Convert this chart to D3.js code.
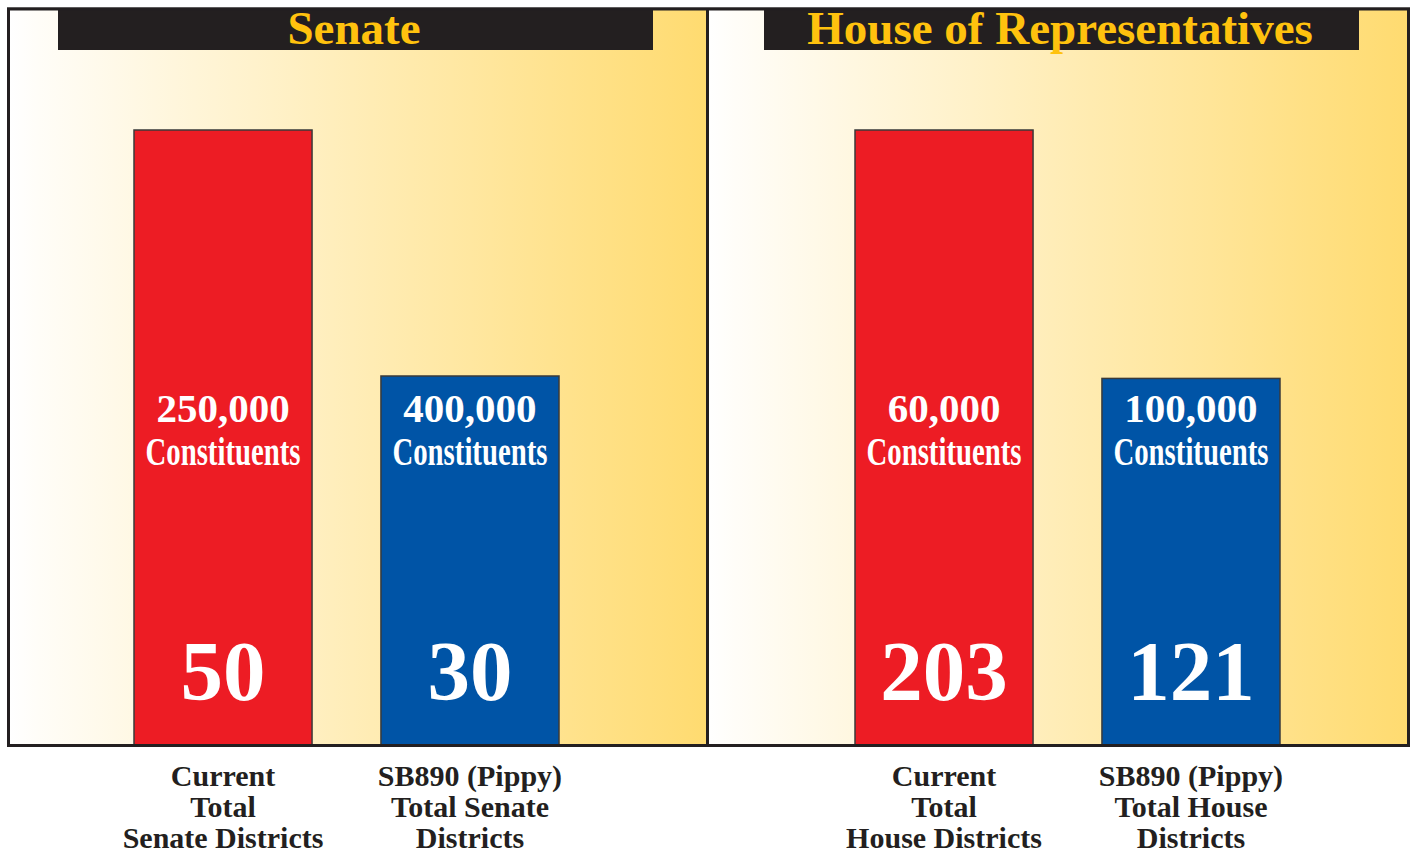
<!DOCTYPE html>
<html>
<head>
<meta charset="utf-8">
<script src="https://cdn.jsdelivr.net/npm/d3@7"></script>
<style>
    body { margin: 0; background: #ffffff; }
    svg { display: block; }
</style>
</head>
<body>
<div id="chart"></div>
<script>
// chart values
const PANEL_TITLES = ["Senate", "House of Representatives"];
const SENATE_CATEGORIES = ["Current", "SB890"];
const HOUSE_CATEGORIES = ["Current", "SB890"];
const SENATE_DISTRICTS = [50, 30];
const HOUSE_DISTRICTS = [203, 121];
const SENATE_CONSTITUENTS = ["250,000", "400,000"];
const HOUSE_CONSTITUENTS = ["60,000", "100,000"];
const SENATE_LABELS = [["Current", "Total", "Senate Districts"], ["SB890 (Pippy)", "Total Senate", "Districts"]];
const HOUSE_LABELS = [["Current", "Total", "House Districts"], ["SB890 (Pippy)", "Total House", "Districts"]];

const BAR_COLORS = ["#ED1C24", "#0054A6"];
const DARK = "#231F20";
const GOLD = "#FFC20E";

const WIDTH = 1416, HEIGHT = 849;
const BASE_Y = 745, TOP_Y = 130;

// where each panel sits
const LAYOUT = [
    { x0: 8.5, x1: 707.5, barStart: 134, barEnd: 559, titleX: 58 },
    { x0: 707.5, x1: 1408.5, barStart: 855, barEnd: 1280, titleX: 764 }
];

const PANELS = [
    { title: PANEL_TITLES[0], cats: SENATE_CATEGORIES, values: SENATE_DISTRICTS, people: SENATE_CONSTITUENTS, labels: SENATE_LABELS },
    { title: PANEL_TITLES[1], cats: HOUSE_CATEGORIES, values: HOUSE_DISTRICTS, people: HOUSE_CONSTITUENTS, labels: HOUSE_LABELS }
];

const SVG = d3.select("#chart").append("svg")
    .attr("width", WIDTH)
    .attr("height", HEIGHT);

const grad = SVG.append("defs").append("linearGradient")
    .attr("id", "bg")
    .attr("x1", "0%").attr("x2", "100%")
    .attr("y1", "0%").attr("y2", "0%");
grad.append("stop").attr("offset", "0%").attr("stop-color", "#FFFFFF");
grad.append("stop").attr("offset", "4%").attr("stop-color", "#FFFDF8");
grad.append("stop").attr("offset", "100%").attr("stop-color", "#FFDB70");

PANELS.forEach((panel, i) => {
    const L = LAYOUT[i];
    const g = SVG.append("g");

    g.append("rect")
        .attr("x", L.x0)
        .attr("y", 8.5)
        .attr("width", L.x1 - L.x0)
        .attr("height", BASE_Y + 0.5 - 8.5)
        .attr("fill", "url(#bg)");

    // title bar
    g.append("rect")
        .attr("x", L.titleX)
        .attr("y", 10)
        .attr("width", 595)
        .attr("height", 40)
        .attr("fill", DARK);
    g.append("text")
        .attr("x", L.titleX + 296)
        .attr("y", 44)
        .attr("text-anchor", "middle")
        .attr("font-family", "'Liberation Serif', serif")
        .attr("font-weight", "bold")
        .attr("font-size", 47)
        .attr("fill", GOLD)
        .text(panel.title);

    const x = d3.scaleBand()
        .domain(panel.cats)
        .range([L.barStart, L.barEnd])
        .paddingInner(0.279)
        .paddingOuter(0);

    const y = d3.scaleLinear()
        .domain([0, d3.max(panel.values)])
        .range([BASE_Y, TOP_Y]);

    const rows = panel.cats.map((c, j) => ({
        cat: c, value: panel.values[j], people: panel.people[j], label: panel.labels[j], color: BAR_COLORS[j]
    }));

    const bars = g.selectAll(".bar")
        .data(rows)
        .enter()
        .append("g")
        .attr("class", "bar");

    bars.append("rect")
        .attr("x", d => x(d.cat))
        .attr("y", d => y(d.value))
        .attr("width", x.bandwidth())
        .attr("height", d => y(0) - y(d.value))
        .attr("fill", d => d.color)
        .attr("stroke", "#3a3a3a")
        .attr("stroke-width", 1.5);

    const cx = d => x(d.cat) + x.bandwidth() / 2;

    bars.append("text")
        .attr("x", cx)
        .attr("y", 422)
        .attr("text-anchor", "middle")
        .attr("font-family", "'Liberation Serif', serif")
        .attr("font-weight", "bold")
        .attr("font-size", 41)
        .attr("fill", "#ffffff")
        .text(d => d.people);

    bars.append("text")
        .attr("x", cx)
        .attr("y", 465)
        .attr("text-anchor", "middle")
        .attr("font-family", "'Liberation Serif', serif")
        .attr("font-weight", "bold")
        .attr("font-size", 40)
        .attr("textLength", 155)
        .attr("lengthAdjust", "spacingAndGlyphs")
        .attr("fill", "#ffffff")
        .text("Constituents");

    bars.append("text")
        .attr("x", cx)
        .attr("y", 700)
        .attr("text-anchor", "middle")
        .attr("font-family", "'Liberation Serif', serif")
        .attr("font-weight", "bold")
        .attr("font-size", 85)
        .attr("fill", "#ffffff")
        .text(d => d.value);

    // category labels under the frame (cut by the page edge, as in the print)
    bars.each(function (d) {
        const t = d3.select(this).append("text")
            .attr("text-anchor", "middle")
            .attr("font-family", "'Liberation Serif', serif")
            .attr("font-weight", "bold")
            .attr("font-size", 30)
            .attr("fill", DARK);
        d.label.forEach((line, k) => {
            t.append("tspan")
                .attr("x", cx(d))
                .attr("y", 786 + k * 31)
                .text(line);
        });
    });
});

// frame
SVG.append("line")
    .attr("x1", 7).attr("x2", 1410)
    .attr("y1", 7.5).attr("y2", 7.5)
    .attr("stroke", "#9a9a9a")
    .attr("stroke-width", 1);
SVG.append("rect")
    .attr("x", 8.5)
    .attr("y", 9)
    .attr("width", 1400)
    .attr("height", 736.5)
    .attr("fill", "none")
    .attr("stroke", DARK)
    .attr("stroke-width", 3);
SVG.append("line")
    .attr("x1", 707.5).attr("x2", 707.5)
    .attr("y1", 9).attr("y2", 745.5)
    .attr("stroke", DARK)
    .attr("stroke-width", 3);
</script>
</body>
</html>
